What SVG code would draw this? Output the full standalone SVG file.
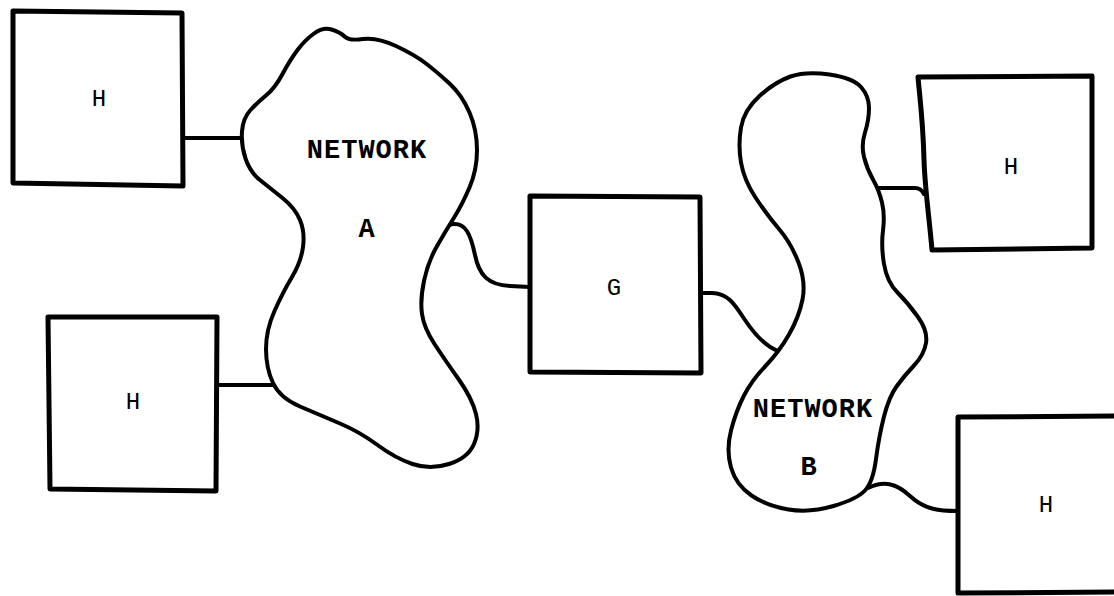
<svg xmlns="http://www.w3.org/2000/svg" width="1114" height="596" viewBox="0 0 1114 596">
  <style>
    .box { fill: #fff; stroke: #000; stroke-width: 5; stroke-linejoin: round; }
    .cloud { fill: #fff; stroke: #000; stroke-width: 4; stroke-linejoin: round; }
    .wire { fill: none; stroke: #000; stroke-width: 4; stroke-linecap: round; stroke-linejoin: round; }
    .lbl { font-family: "Liberation Mono", "DejaVu Sans Mono", monospace; fill: #000; text-anchor: middle; }
    .small { font-size: 24px; }
    .big { font-size: 27px; font-weight: bold; letter-spacing: 1px; }
  </style>
  <rect width="1114" height="596" fill="#fff"/>

  <!-- links between hosts, networks and gateway -->
  <g id="connectors">
    <path class="wire" d="M182,138 L242,138"/>
    <path class="wire" d="M217,385 L275,385"/>
    <path class="wire" d="M449,225 C466,220 471,236 475,255 C479,275 488,285 510,286 L530,287"/>
    <path class="wire" d="M700,293 L712,293 C728,293 735,305 745,320 C755,335 765,346 778,351"/>
    <path class="wire" d="M877,188 L915,188 Q921,188 924,194"/>
    <path class="wire" d="M868,488 C885,480 897,484 910,496 C925,510 940,511 958,511"/>
  </g>

  <g id="network-a">
    <path class="cloud" d="M314,33.5 Q323,27 331.5,29.5 Q340,32 344.5,36.5 Q349,41 363,39 Q377,37 396,46 Q415,55 426,63.5 Q437,72 449.5,83.5 Q462,95 469.5,112.5 Q477,130 477,150 Q477,170 469.5,187.5 Q462,205 453.5,218.5 Q445,232 436.5,247 Q428,262 424,281 Q420,300 422,314 Q424,328 434.5,344 Q445,360 458.5,379 Q472,398 476,414 Q480,430 474,444 Q468,458 449,464 Q430,470 412.5,464 Q395,458 377.5,445 Q360,432 340,423.5 Q320,415 300,406.5 Q280,398 273,383 Q266,368 266,349 Q266,330 274.5,311 Q283,292 292,277 Q301,262 303,247 Q305,232 300,220 Q295,208 282.5,198 Q270,188 260,180 Q250,172 245.5,158.5 Q241,145 242,131.5 Q243,118 250.5,110 Q258,102 266.5,95 Q275,88 282.5,74 Q290,60 297.5,50 Q305,40 314,33.5 Z"/>
    <text class="lbl big" x="367" y="158">NETWORK</text>
    <text class="lbl big" x="367" y="237">A</text>
  </g>

  <g id="network-b">
    <path class="cloud" d="M790.5,76.5 Q806,71 829.5,74.5 Q853,78 861,87 Q869,96 869,108 Q869,120 865,132.5 Q861,145 864,157 Q867,169 873,179.5 Q879,190 882,202.5 Q885,215 883,230.5 Q881,246 884,264 Q887,282 897.5,292.5 Q908,303 918,317 Q928,331 926,343 Q924,355 914,365.5 Q904,376 896.5,386.5 Q889,397 884,416.5 Q879,436 876,459 Q873,482 865,490.5 Q857,499 833.5,506 Q810,513 788.5,509.5 Q767,506 751.5,495.5 Q736,485 731,467.5 Q726,450 731,430.5 Q736,411 744,395.5 Q752,380 765.5,366 Q779,352 789,334.5 Q799,317 802.5,299.5 Q806,282 798.5,262.5 Q791,243 779,229 Q767,215 755.5,197.5 Q744,180 741,162.5 Q738,145 741,127.5 Q744,110 759.5,96 Q775,82 790.5,76.5 Z"/>
    <text class="lbl big" x="813" y="417">NETWORK</text>
    <text class="lbl big" x="809" y="475">B</text>
  </g>

  <g id="host-1">
    <path class="box" d="M13,11 L182,13 L183,186 L13,183 Z"/>
    <text class="lbl small" x="99" y="106">H</text>
  </g>

  <g id="host-2">
    <path class="box" d="M48,317 L217,317 L216,491 L50,489 Z"/>
    <text class="lbl small" x="133" y="409">H</text>
  </g>

  <g id="gateway">
    <path class="box" d="M530,196 L700,197 L701,373 L530,372 Z"/>
    <text class="lbl small" x="614" y="295">G</text>
  </g>

  <g id="host-3">
    <path class="box" d="M918,77 L1092,76 L1092,248 L932,250 C929,215 925,190 924,160 C923,120 920,100 918,77 Z"/>
    <text class="lbl small" x="1011" y="174">H</text>
  </g>

  <g id="host-4">
    <path class="box" d="M1120,416 L958,417 L958,593 L1120,592"/>
    <text class="lbl small" x="1046" y="512">H</text>
  </g>
</svg>
